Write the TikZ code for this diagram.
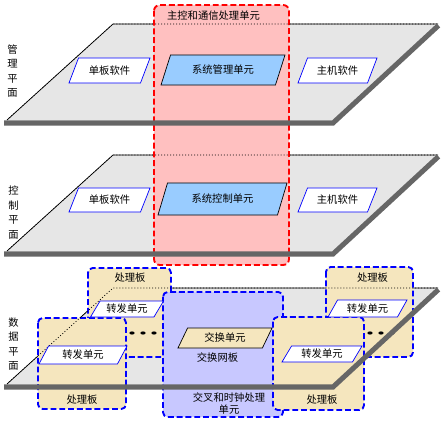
\documentclass[tikz,border=0pt]{standalone}
\usepackage{fontspec}
\setmainfont{Noto Sans CJK SC}
\usetikzlibrary{shapes.geometric}
\definecolor{planegray}{RGB}{230,230,230}
\definecolor{bargray}{RGB}{102,102,102}
\definecolor{rose}{RGB}{255,192,192}
\definecolor{wheat}{RGB}{245,230,190}
\definecolor{lilac}{RGB}{200,200,255}
\definecolor{sky}{RGB}{153,204,255}
\newcommand\lblfont{\fontsize{8.8}{11}\selectfont}
\tikzset{
  unit/.style={trapezium,trapezium left angle=45,trapezium right angle=135,
    trapezium stretches body,draw=#1,line width=0.6pt,inner sep=0pt,font=\lblfont},
  unit/.default=blue,
  soft/.style={unit=blue,fill=white},
  core/.style={unit=black,fill=#1},
  core/.default=sky,
  board/.style={draw=#1,line width=1.6pt,dash pattern=on 5pt off 2.5pt,rounded corners=4pt},
  board/.default=blue,
  tag/.style={font=\lblfont,align=center},
  vtag/.style={font=\fontsize{8.8}{12.4}\selectfont,align=center},
  bar/.style={draw=bargray,line width=4.3pt,line join=miter},
  hidden/.style={draw=black,line width=0.6pt,dash pattern=on 0.85pt off 1.7pt},
}
\begin{document}
\begin{tikzpicture}[x=0.03cm,y=-0.03cm]
\useasboundingbox (0,0) rectangle (443,422);
% the three planes
\foreach \t in {24,155,288}{
  \fill[planegray] (7,{\t+96}) -- (113,\t) -- (438,\t) -- (333,{\t+96}) -- cycle;
  \draw[line width=0.6pt] (7,{\t+96}) -- (113,\t) -- (438,\t);
}
\node[vtag] (mgmt) at (12.5,71) {管\\理\\平\\面};
\node[vtag] (ctrl) at (13.5,212.5) {控\\制\\平\\面};
\node[vtag] (data) at (13.5,344) {数\\据\\平\\面};

% boards
\path[board=red,fill=rose,rounded corners=5pt] (154,5) rectangle (289,265);
\path[board,fill=wheat] (88,268) rectangle (171,357);
\path[board,fill=wheat] (326,267) rectangle (413,357);
\path[board,fill=wheat] (38,318) rectangle (126,409);
\path[board,fill=lilac] (163,292) rectangle (283,417);
\path[board,fill=wheat] (273,317) rectangle (364,410);

% plane edges behind the boards
\foreach \t in {24,155,288}
  \path[hidden] (7,{\t+96}) -- (113,\t) -- (438,\t);

\foreach \x in {132,143,154,370,381,392}
  \fill (\x,333) ellipse (2.6 and 1.6);

% plane thickness
\foreach \t in {24,155,288}
  \path[bar] (4,{\t+99}) -- (333,{\t+99}) -- (438.5,{\t+1.5});

% units
\node[soft,minimum width=2.43cm,minimum height=0.75cm] (mboard) at (109.5,70.5) {单板软件};
\node[core,minimum width=3.72cm,minimum height=0.9cm] (msys) at (223,70) {系统管理单元};
\node[soft,minimum width=2.37cm,minimum height=0.75cm] (mhost) at (337.5,70.5) {主机软件};
\node[soft,minimum width=2.43cm,minimum height=0.72cm] (cboard) at (109.5,200) {单板软件};
\node[core,minimum width=3.87cm,minimum height=0.96cm] (csys) at (222.5,199) {系统控制单元};
\node[soft,minimum width=2.37cm,minimum height=0.72cm] (chost) at (337.5,200) {主机软件};
\node[core=wheat,minimum width=2.82cm,minimum height=0.6cm] (swu) at (225,338) {交换单元};
\node[soft,minimum width=2.19cm,minimum height=0.48cm] (fwa) at (127,309) {转发单元};
\node[soft,minimum width=2.64cm,minimum height=0.54cm] (fwb) at (83,355) {转发单元};
\node[soft,minimum width=2.4cm,minimum height=0.48cm] (fwc) at (322,354) {转发单元};
\node[soft,minimum width=2.37cm,minimum height=0.51cm] (fwd) at (367.5,308.5) {转发单元};

% labels
\node[tag] (mcu) at (213.5,15.5) {主控和通信处理单元};
\node[tag] (pba) at (130,278) {处理板};
\node[tag] (pbd) at (372.5,278) {处理板};
\node[tag] (pbb) at (82,400) {处理板};
\node[tag] (pbc) at (322,400) {处理板};
\node[tag] (swb) at (217.5,357.5) {交换网板};
\node[tag] (xcu) at (229,403.5) {交叉和时钟处理\\单元};
\end{tikzpicture}
\end{document}
